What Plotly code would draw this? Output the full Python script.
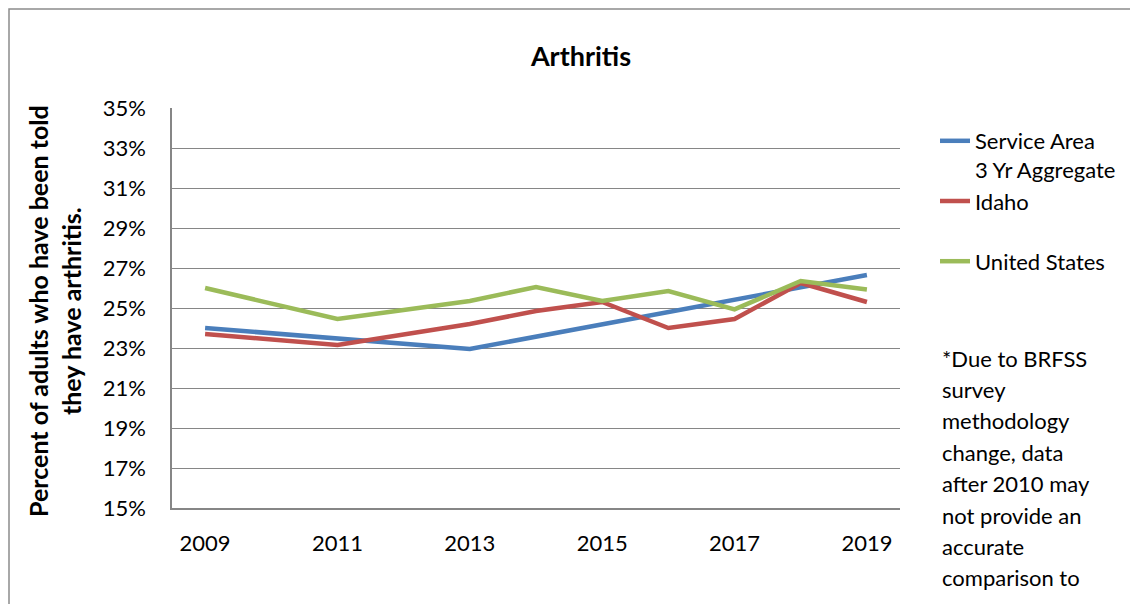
import plotly.graph_objects as go

years = [2009, 2010, 2011, 2012, 2013, 2014, 2015, 2016, 2017, 2018, 2019]
service_area = [24.0, None, 23.45, None, 22.95, None, None, None, None, None, 26.65]
idaho = [23.7, None, 23.15, None, 24.2, 24.85, 25.3, 24.0, 24.45, 26.25, 25.3]
united_states = [26.0, None, 24.45, None, 25.35, 26.05, 25.35, 25.85, 24.93, 26.35, 25.93]
x_tick_labels = [2009, 2011, 2013, 2015, 2017, 2019]
note_lines = ["*Due to BRFSS", "survey", "methodology", "change, data",
              "after 2010 may", "not provide an", "accurate", "comparison to"]

FONT = "Lato"
# page body has an 8px margin; work in screen pixels and convert
OX, OY = 8, 8
W, H = 1130, 596
L, T = 172 - OX, 108 - OY
pw, ph = 728, 400
R, B = W - L - pw, H - T - ph


def px(xs):
    return (xs - OX - L) / pw


def py(ys):
    return 1 - (ys - OY - T) / ph


fig = go.Figure()
series = [
    ("Service Area<br>3 Yr Aggregate", service_area, "#4A7EBB"),
    ("Idaho<br> ", idaho, "#C0504D"),
    ("United States", united_states, "#9BBB59"),
]
for name, vals, color in series:
    fig.add_trace(go.Scatter(
        x=years, y=vals, name=name, mode="lines", connectgaps=True,
        line=dict(color=color, width=4.5),
    ))

fig.update_layout(
    width=W, height=H,
    margin=dict(l=L, r=R, t=T, b=B, autoexpand=False),
    paper_bgcolor="white", plot_bgcolor="white",
    font=dict(family=FONT, size=22, color="black"),
    title=dict(text="<b>Arthritis</b>", x=(581 - OX) / W, xanchor="center",
               y=1 - (57 - OY) / H, yanchor="middle", font=dict(size=27)),
    xaxis=dict(range=[2008.5, 2019.5], tickvals=x_tick_labels,
               ticktext=[str(v) for v in x_tick_labels],
               showgrid=False, showline=True, linecolor="#868686", linewidth=1.5,
               ticks="", zeroline=False, ticklabelstandoff=15,
               tickfont=dict(size=22)),
    yaxis=dict(range=[15, 35], dtick=2, tick0=15, ticksuffix="%",
               showgrid=True, gridcolor="#868686", gridwidth=1.2,
               showline=True, linecolor="#868686", linewidth=1.5,
               ticks="", zeroline=False, ticklabelstandoff=20,
               tickfont=dict(size=22)),
    legend=dict(x=px(935), xanchor="left", y=py(120), yanchor="top",
                valign="top", font=dict(size=22), tracegroupgap=0,
                bgcolor="rgba(0,0,0,0)"),
    showlegend=True,
)

fig.add_annotation(
    text="<b>Percent of adults who have been told<br>they have arthritis.</b>",
    xref="paper", yref="paper", x=px(54), y=py(311),
    xanchor="center", yanchor="middle", textangle=-90,
    showarrow=False, font=dict(size=25), align="center")

for i, line in enumerate(note_lines):
    fig.add_annotation(text=line, xref="paper", yref="paper",
                       x=px(940), xanchor="left",
                       y=py(358 + 31.4 * i), yanchor="middle",
                       showarrow=False, font=dict(size=22), align="left")

fig.add_shape(type="rect", xref="paper", yref="paper",
              x0=px(9), x1=px(1160), y0=py(640), y1=py(9),
              line=dict(color="#8C8C8C", width=1.5), layer="below")

fig.write_html("out.html")
